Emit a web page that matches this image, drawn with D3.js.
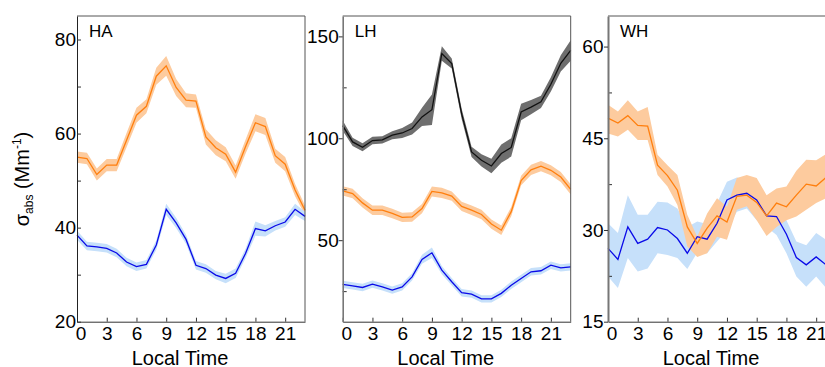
<!DOCTYPE html>
<html>
<head>
<meta charset="utf-8">
<script src="https://cdn.jsdelivr.net/npm/d3@7"></script>
<style>
  html, body { margin: 0; padding: 0; background: #fff; }
  svg { display: block; font-family: "Liberation Sans", Arial, sans-serif; }
</style>
</head>
<body>
<script>
// hour of day
const hours = [0,1,2,3,4,5,6,7,8,9,10,11,12,13,14,15,16,17,18,19,20,21,22,23];
const hourTicks = [0,3,6,9,12,15,18,21];

// HA panel
const haOrange = [55.0,54.7,51.3,53.3,53.3,58.6,63.9,65.8,72.2,74.4,69.8,67.1,66.9,59.3,57.0,55.6,51.8,57.2,62.3,61.5,55.3,53.5,48.0,43.7];
const haOrangeErr = [1.2,1.2,1.3,1.3,1.3,1.5,1.6,1.5,1.8,2.1,1.8,1.5,1.4,1.6,1.6,1.5,1.4,1.5,1.8,1.8,1.5,1.5,1.3,1.0];
const haBlue = [38.4,36.1,35.9,35.6,34.6,32.7,31.7,32.2,36.3,43.9,41.0,37.5,32.0,31.3,29.9,29.2,30.3,34.5,39.8,39.3,40.4,41.2,43.9,42.4];
const haBlueErr = [1.0,0.9,0.9,0.9,0.9,0.9,0.9,0.9,1.0,1.2,1.1,1.0,0.9,0.9,0.9,1.0,1.0,1.0,1.5,1.2,1.0,1.0,1.2,1.0];

// LH panel
const lhBlack = [106.2,98.2,95.6,98.9,99.2,101.5,102.6,104.8,110.5,114.0,141.6,136.7,112.0,93.3,89.2,86.4,92.5,95.5,112.9,115.3,117.9,126.5,136.8,143.1];
const lhBlackErr = [2.5,2.0,2.0,1.8,1.8,2.0,2.5,3.0,4.5,7.5,3.5,2.5,2.5,2.5,3.0,3.5,4.5,4.5,4.0,3.5,3.0,3.5,4.0,5.0];
const lhOrange = [74.2,72.9,68.3,64.7,64.7,63.1,61.2,61.4,65.5,73.9,73.2,71.6,66.6,64.7,62.6,57.9,54.9,64.0,79.3,84.5,86.3,84.3,81.0,74.9];
const lhOrangeErr = [2.3,2.3,2.3,2.3,2.3,2.3,2.3,2.3,2.3,2.5,2.5,2.3,2.3,2.3,2.3,2.3,2.3,2.3,2.3,2.5,2.5,2.5,2.5,2.5];
const lhBlue = [28.3,27.6,26.8,28.4,27.1,25.5,27.1,32.0,40.6,43.8,35.3,29.6,24.2,23.5,21.2,21.2,23.9,27.9,31.2,34.5,35.0,37.7,36.4,36.9];
const lhBlueErr = [1.8,1.8,1.8,1.8,1.8,1.8,1.8,1.8,2.2,2.6,2.0,1.8,1.8,1.8,1.8,1.8,1.8,1.8,1.8,1.8,1.8,1.8,1.8,1.8];

// WH panel (bands are not symmetric here)
const whOrange = [48.3,47.5,48.7,47.1,47.0,40.6,38.9,36.5,30.5,27.8,30.3,32.3,31.3,35.5,35.7,34.5,32.3,34.4,33.8,35.7,37.5,37.2,38.6,39.5];
const whOrangeHi = [50.5,49.4,51.2,49.4,50.1,42.3,40.6,39.0,32.5,28.9,32.7,35.2,33.8,38.5,39.0,38.5,35.7,36.8,37.1,39.7,41.5,41.4,42.4,43.5];
const whOrangeLo = [45.8,45.3,46.4,44.7,44.7,39.0,37.1,34.1,27.3,25.6,26.2,28.9,28.4,33.3,33.9,31.6,29.0,30.5,31.6,32.2,33.3,34.4,35.2,36.0];
const whBlue = [27.0,25.2,30.5,27.8,28.5,30.4,30.0,28.6,26.2,28.9,28.5,31.1,34.9,35.7,36.0,34.9,32.3,32.2,29.3,25.5,24.3,25.6,24.3,24.0];
const whBlueHi = [31.1,29.5,35.7,32.5,32.5,34.6,34.5,33.5,30.5,31.4,31.0,34.4,37.9,38.6,38.2,35.7,33.8,33.8,31.6,28.1,27.5,29.5,28.4,28.0];
const whBlueLo = [22.4,20.5,25.4,23.2,23.7,26.2,25.9,25.4,23.6,26.3,26.2,28.1,30.0,33.0,33.5,31.6,30.5,29.2,26.2,22.4,20.7,22.4,20.5,20.0];

const orange = "#ff7f0e", orangeBand = "#fdcb9e";
const blue = "#0a0ae8", blueBand = "#c6e0fa";
const black = "#111111", blackBand = "#6e6e6e";

const width = 825, height = 367;
const plotTop = 16, plotBottom = 321.7, panelW = 228;

const svg = d3.select("body").append("svg")
  .attr("width", width)
  .attr("height", height)
  .attr("viewBox", [0, 0, width, height]);

function addErr(mean, err, sign) {
  return mean.map((v, i) => v + sign * err[i]);
}

const panels = [
  {
    name: "HA", left: 77, domain: [20, 85],
    major: [20, 40, 60, 80], minor: [30, 50, 70],
    tickOut: false, pad: 1, axisColor: "#222", axisWidth: 1,
    series: [
      { mean: haOrange, lo: addErr(haOrange, haOrangeErr, -1), hi: addErr(haOrange, haOrangeErr, 1), color: orange, band: orangeBand },
      { mean: haBlue, lo: addErr(haBlue, haBlueErr, -1), hi: addErr(haBlue, haBlueErr, 1), color: blue, band: blueBand }
    ]
  },
  {
    name: "LH", left: 342.7, domain: [10, 160],
    major: [50, 100, 150], minor: [25, 75, 125],
    tickOut: true, pad: 0, axisColor: "#777", axisWidth: 1.6,
    series: [
      { mean: lhBlack, lo: addErr(lhBlack, lhBlackErr, -1), hi: addErr(lhBlack, lhBlackErr, 1), color: black, band: blackBand },
      { mean: lhOrange, lo: addErr(lhOrange, lhOrangeErr, -1), hi: addErr(lhOrange, lhOrangeErr, 1), color: orange, band: orangeBand },
      { mean: lhBlue, lo: addErr(lhBlue, lhBlueErr, -1), hi: addErr(lhBlue, lhBlueErr, 1), color: blue, band: blueBand }
    ]
  },
  {
    name: "WH", left: 608, domain: [15, 65],
    major: [15, 30, 45, 60], minor: [22.5, 37.5, 52.5],
    tickOut: true, pad: 0.5, axisColor: "#777", axisWidth: 2,
    series: [
      { mean: whBlue, lo: whBlueLo, hi: whBlueHi, color: blue, band: blueBand },
      { mean: whOrange, lo: whOrangeLo, hi: whOrangeHi, color: orange, band: orangeBand }
    ]
  }
];

panels.forEach((p) => {
  const x = d3.scaleLinear().domain([0, 23]).range([p.left, p.left + panelW]);
  const y = d3.scaleLinear().domain(p.domain).range([plotBottom, plotTop]);
  const g = svg.append("g");

  // bands first, then lines on top
  p.series.forEach((s) => {
    const area = d3.area()
      .x((d, i) => x(hours[i]))
      .y0((d, i) => y(s.lo[i]))
      .y1((d, i) => y(s.hi[i]));
    g.append("path")
      .attr("d", area(hours))
      .attr("fill", s.band);
  });
  p.series.forEach((s) => {
    const line = d3.line()
      .x((d, i) => x(hours[i]))
      .y((d) => y(d));
    g.append("path")
      .attr("d", line(s.mean))
      .attr("fill", "none")
      .attr("stroke", s.color)
      .attr("stroke-width", 1.3);
  });

  // top and right frame
  g.append("path")
    .attr("d", `M${p.left},${plotTop}H${p.left + panelW}V${plotBottom}`)
    .attr("fill", "none")
    .attr("stroke", "#555")
    .attr("stroke-width", 1);

  // x axis
  const xAxis = d3.axisBottom(x)
    .tickValues(hourTicks)
    .tickSize(-4)
    .tickSizeOuter(0)
    .tickPadding(4.5);
  const gx = g.append("g")
    .attr("transform", `translate(0,${plotBottom})`)
    .call(xAxis);
  gx.select(".domain").attr("stroke", "#333");
  gx.selectAll(".tick line").attr("stroke", "#333");
  gx.selectAll(".tick text")
    .attr("font-size", 19)
    .attr("font-family", "Liberation Sans, Arial, sans-serif")
    .attr("fill", "#000")
    .attr("dx", (d) => (d === 0 ? 3.5 : 0));

  // y axis: minor ticks inside
  const gm = g.append("g")
    .attr("transform", `translate(${p.left},0)`)
    .call(d3.axisLeft(y).tickValues(p.minor).tickSize(-4).tickSizeOuter(0).tickFormat(""));
  gm.select(".domain").remove();
  gm.selectAll(".tick line").attr("stroke", "#333");

  const yAxis = d3.axisLeft(y)
    .tickValues(p.major)
    .tickSize(p.tickOut ? 4 : -4)
    .tickSizeOuter(0)
    .tickPadding(p.pad);
  const gy = g.append("g")
    .attr("transform", `translate(${p.left},0)`)
    .call(yAxis);
  gy.select(".domain")
    .attr("stroke", p.axisColor)
    .attr("stroke-width", p.axisWidth);
  gy.selectAll(".tick line").attr("stroke", "#333");
  gy.selectAll(".tick text")
    .attr("font-size", 19)
    .attr("font-family", "Liberation Sans, Arial, sans-serif")
    .attr("fill", "#000");

  // panel name
  g.append("text")
    .attr("x", p.left + 12)
    .attr("y", 37)
    .attr("font-size", 17)
    .text(p.name);

  // x title
  g.append("text")
    .attr("x", p.left + 103)
    .attr("y", 365)
    .attr("text-anchor", "middle")
    .attr("font-size", 20)
    .text("Local Time");
});

// y title
const yt = svg.append("text")
  .attr("transform", "translate(28.5,179) rotate(-90)")
  .attr("text-anchor", "middle")
  .attr("font-size", 20);
yt.append("tspan").text("σ");
yt.append("tspan").attr("font-size", 12).attr("dy", 4).text("abs");
yt.append("tspan").attr("dy", -4).text(" (Mm");
yt.append("tspan").attr("font-size", 12).attr("dy", -8).text("-1");
yt.append("tspan").attr("dy", 8).text(")");
</script>
</body>
</html>
